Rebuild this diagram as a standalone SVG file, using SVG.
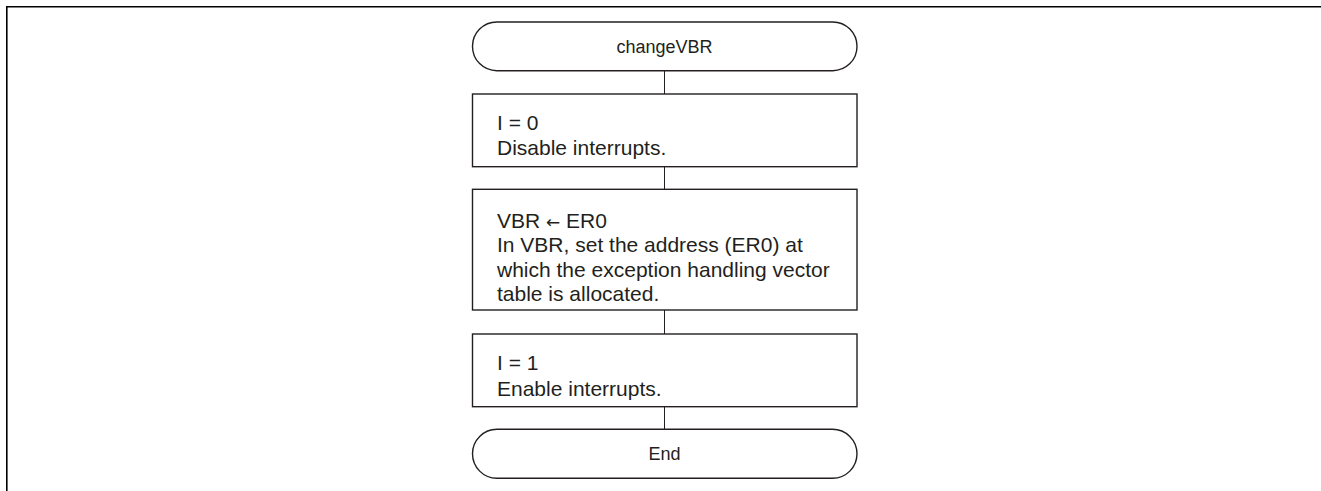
<svg xmlns="http://www.w3.org/2000/svg" width="1321" height="491" viewBox="0 0 1321 491">
<style>
.frame{fill:none;stroke:#000;stroke-width:1.6}
.shape{fill:#fff;stroke:#231f20;stroke-width:1.4}
.conn{fill:none;stroke:#231f20;stroke-width:1}
text{font-family:"Liberation Sans",Arial,sans-serif;font-size:21px;fill:#231f20}
.c{text-anchor:middle;font-size:18px}
.arr{font-family:"DejaVu Sans",sans-serif;font-size:17px}
</style>
<rect width="1321" height="491" fill="#fff"/>
<path class="frame" d="M6.8,491 V6.8 H1321"/>
<g id="connectors">
<line class="conn" x1="664.5" y1="70.7" x2="664.5" y2="94"/>
<line class="conn" x1="664.5" y1="166.7" x2="664.5" y2="189.3"/>
<line class="conn" x1="664.5" y1="310" x2="664.5" y2="334"/>
<line class="conn" x1="664.5" y1="406.7" x2="664.5" y2="429.3"/>
</g>
<g id="start">
<rect class="shape" x="472.5" y="22" width="384.5" height="48.7" rx="24.3"/>
<text class="c" x="664.5" y="52.7">changeVBR</text>
</g>
<g id="step1">
<rect class="shape" x="472.5" y="94" width="384.5" height="72.7"/>
<text x="497" y="129.5">I = 0</text>
<text x="497" y="155">Disable interrupts.</text>
</g>
<g id="step2">
<rect class="shape" x="472.5" y="189.3" width="384.5" height="120.7"/>
<text x="497" y="227.5">VBR <tspan class="arr">←</tspan> ER0</text>
<text x="497" y="252">In VBR, set the address (ER0) at</text>
<text x="497" y="276.5">which the exception handling vector</text>
<text x="497" y="301">table is allocated.</text>
</g>
<g id="step3">
<rect class="shape" x="472.5" y="334" width="384.5" height="72.7"/>
<text x="497" y="370">I = 1</text>
<text x="497" y="395.5">Enable interrupts.</text>
</g>
<g id="end">
<rect class="shape" x="472.5" y="429.3" width="384.5" height="49" rx="24.5"/>
<text class="c" x="664.5" y="460">End</text>
</g>
</svg>
